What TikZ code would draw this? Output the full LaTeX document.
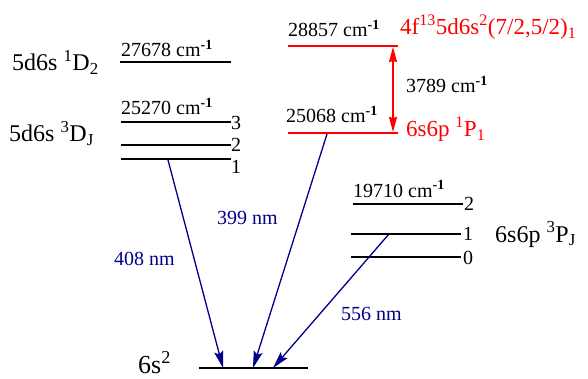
\documentclass[tikz,border=0pt]{standalone}
\usepackage{fontspec}
\setmainfont{Liberation Serif}
\usetikzlibrary{arrows.meta}
\definecolor{tblue}{RGB}{0,0,140}
\definecolor{tred}{RGB}{255,0,0}
\tikzset{
  lvl/.style={line width=2.4pt,black},
  rlvl/.style={line width=2.4pt,tred},
  txt/.style={anchor=base west,inner sep=0pt,font=\fontsize{20}{22}\selectfont},
  big/.style={anchor=base west,inner sep=0pt,font=\fontsize{24}{26}\selectfont},
  rbig/.style={big,text=tred,font=\fontsize{23}{26}\selectfont},
  blab/.style={txt,text=tblue},
  trans/.style={tblue,line width=1.3pt,-{Stealth[length=17pt,width=9pt,inset=3pt]}},
  dbl/.style={tred,line width=1.6pt,{Stealth[length=15pt,width=8pt,inset=1pt]}-{Stealth[length=15pt,width=8pt,inset=1pt]}}
}
\newcommand{\cmi}{cm\textsuperscript{\textbf{-1}}}
\begin{document}
\begin{tikzpicture}[x=1pt,y=-1pt]
\useasboundingbox (0,0) rectangle (588,379);
% levels
\coordinate (d2a) at (120,62);  \coordinate (d2b) at (231,62);
\coordinate (d3a) at (121,122); \coordinate (d3b) at (231,122);
\coordinate (d22a) at (121,145); \coordinate (d22b) at (231,145);
\coordinate (d1a) at (121,159); \coordinate (d1b) at (231,159);
\coordinate (ra) at (288,46); \coordinate (rb) at (398,46);
\coordinate (pa) at (288,133); \coordinate (pb) at (398,133);
\coordinate (p2a) at (353,204); \coordinate (p2b) at (463,204);
\coordinate (p1a) at (351,234); \coordinate (p1b) at (461,234);
\coordinate (p0a) at (351,257); \coordinate (p0b) at (461,257);
\coordinate (ga) at (199,368); \coordinate (gb) at (308,368);
\draw[lvl] (d2a) -- (d2b);
\draw[lvl] (d3a) -- (d3b);
\draw[lvl] (d22a) -- (d22b);
\draw[lvl] (d1a) -- (d1b);
\draw[rlvl] (ra) -- (rb);
\draw[rlvl] (pa) -- (pb);
\draw[lvl] (p2a) -- (p2b);
\draw[lvl] (p1a) -- (p1b);
\draw[lvl] (p0a) -- (p0b);
\draw[lvl] (ga) -- (gb);
% labels
\node[big] (l1) at (12,71) {5d6s \textsuperscript{1}D\textsubscript{2}};
\node[big] (l2) at (9,142) {5d6s \textsuperscript{3}D\textsubscript{J}};
\node[txt] (e1) at (121,57) {27678 \cmi};
\node[txt] (e2) at (121,115) {25270 \cmi};
\node[txt,anchor=west] (j3) at (231,123) {3};
\node[txt,anchor=west] (j2) at (231,145) {2};
\node[txt,anchor=west] (j1) at (231,167) {1};
\node[txt] (e3) at (288,37) {28857 \cmi};
\node[txt] (e4) at (286,123) {25068 \cmi};
\node[rbig] (r1) at (400,35) {4f\textsuperscript{13}5d6s\textsuperscript{2}(7/2,5/2)\textsubscript{1}};
\node[rbig] (r2) at (406,137) {6s6p \textsuperscript{1}P\textsubscript{1}};
\node[txt] (e5) at (406,93) {3789 \cmi};
\node[txt] (e6) at (353,197) {19710 \cmi};
\node[txt,anchor=west] (k2) at (464,204) {2};
\node[txt,anchor=west] (k1) at (463,234) {1};
\node[txt,anchor=west] (k0) at (463,258) {0};
\node[big] (l3) at (495,242) {6s6p \textsuperscript{3}P\textsubscript{J}};
\node[big,font=\fontsize{26}{28}\selectfont] (l4) at (138,373) {6s\textsuperscript{2}};
% transitions
\coordinate (s1) at (168,160); \coordinate (t1) at (223,368);
\coordinate (s2) at (327,134); \coordinate (t2) at (253,368);
\coordinate (s3) at (389,234); \coordinate (t3) at (273,368);
\draw[trans] (s1) -- (t1);
\draw[trans] (s2) -- (t2);
\draw[trans] (s3) -- (t3);
\coordinate (u1) at (393,47); \coordinate (u2) at (393,132);
\draw[dbl] (u1) -- (u2);
\node[blab] (w1) at (114,265) {408 nm};
\node[blab] (w2) at (217,225) {399 nm};
\node[blab] (w3) at (341,320) {556 nm};
\end{tikzpicture}
\end{document}
